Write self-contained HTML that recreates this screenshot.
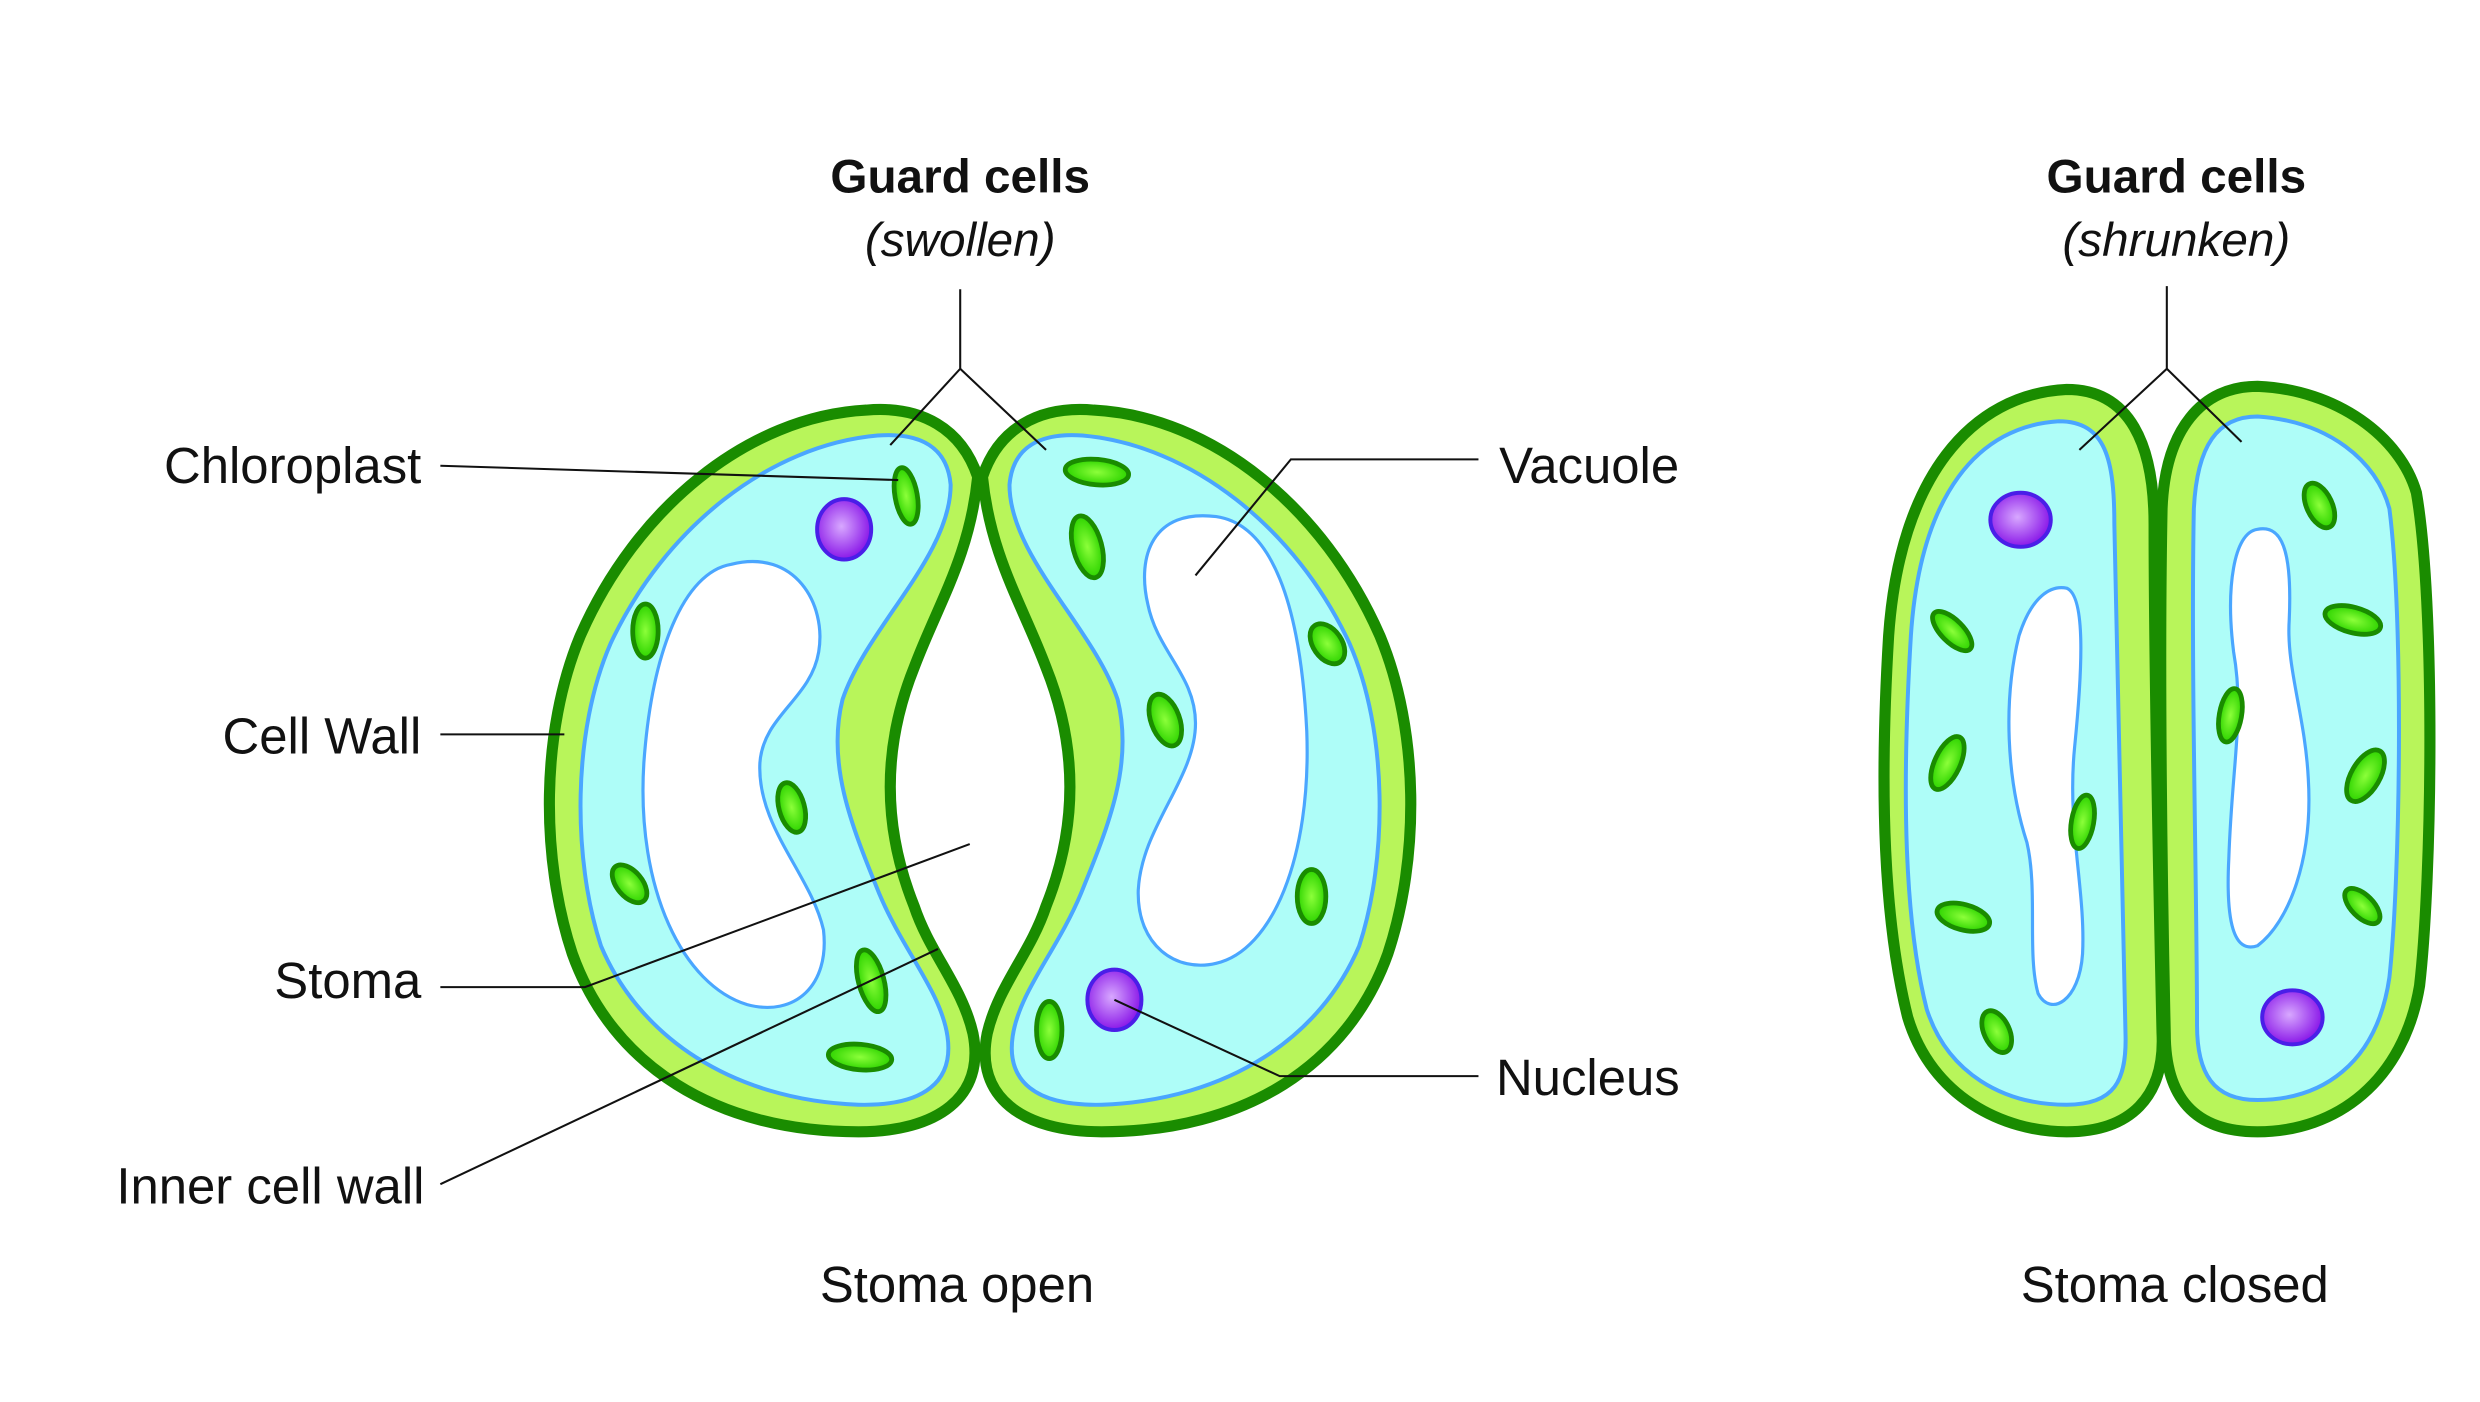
<!DOCTYPE html>
<html><head><meta charset="utf-8"><style>
html,body{margin:0;padding:0;background:#fff;}
svg{display:block;}
text{font-family:"Liberation Sans",sans-serif;fill:#111;}
</style></head><body>
<svg width="2480" height="1402" viewBox="0 0 1560 882" preserveAspectRatio="none" xmlns="http://www.w3.org/2000/svg">
<defs>
<radialGradient id="cg" cx="50%" cy="50%" r="50%"><stop offset="0" stop-color="#8cff3a"/><stop offset="1" stop-color="#2ed400"/></radialGradient>
<radialGradient id="ng" cx="45%" cy="45%" r="55%"><stop offset="0" stop-color="#d8a8ff"/><stop offset="1" stop-color="#8a18e8"/></radialGradient>
<g id="lcell">
<path d="M615,300 C605,270 580,255 545,258 C470,262 400,320 365,400 C340,460 340,540 360,600 C385,670 450,712 540,712 C590,712 620,690 612,650 C605,620 585,600 575,570 C555,520 555,470 575,420 C590,380 610,350 615,300 Z" fill="#b8f55a" stroke="#1a8c00" stroke-width="7"/>
<path d="M598,305 C596,282 580,272 552,274 C484,280 418,332 384,405 C360,460 360,540 378,595 C402,652 460,692 540,695 C582,696 600,680 596,652 C592,624 568,598 553,562 C535,518 520,480 530,440 C545,395 598,350 598,305 Z" fill="#aefdf8" stroke="#4aa6ff" stroke-width="2.5"/>
</g>
</defs>

<use href="#lcell"/>
<path d="M460,355 C500,345 520,380 515,410 C510,440 480,450 478,480 C476,520 510,550 518,585 C522,620 500,640 470,632 C430,620 400,560 405,480 C410,410 430,360 460,355 Z" fill="#fff" stroke="#4aa6ff" stroke-width="2"/>
<g transform="translate(1233,0) scale(-1,1)"><use href="#lcell"/></g>
<path d="M765,325 C725,320 715,350 722,380 C728,410 752,425 752,455 C752,490 718,520 716,560 C715,595 740,612 765,606 C800,598 825,540 822,460 C818,380 800,330 765,325 Z" fill="#fff" stroke="#4aa6ff" stroke-width="2"/>

<g fill="url(#cg)" stroke="#1a8c00" stroke-width="3">
<ellipse cx="570" cy="312" rx="7" ry="18" transform="rotate(-10 570 312)"/>
<ellipse cx="406" cy="397" rx="8" ry="17"/>
<ellipse cx="498" cy="508" rx="8" ry="16" transform="rotate(-15 498 508)"/>
<ellipse cx="396" cy="556" rx="8" ry="14" transform="rotate(-40 396 556)"/>
<ellipse cx="548" cy="617" rx="8" ry="20" transform="rotate(-15 548 617)"/>
<ellipse cx="541" cy="665" rx="20" ry="8" transform="rotate(5 541 665)"/>
<ellipse cx="690" cy="297" rx="20" ry="8" transform="rotate(5 690 297)"/>
<ellipse cx="684" cy="344" rx="9" ry="20" transform="rotate(-15 684 344)"/>
<ellipse cx="835" cy="405" rx="9" ry="14" transform="rotate(-35 835 405)"/>
<ellipse cx="733" cy="453" rx="9" ry="17" transform="rotate(-20 733 453)"/>
<ellipse cx="825" cy="564" rx="9" ry="17"/>
<ellipse cx="660" cy="648" rx="8" ry="18"/>
</g>
<g fill="url(#ng)" stroke="#4a1ee8" stroke-width="2.5">
<ellipse cx="531" cy="333" rx="17" ry="19"/>
<ellipse cx="701" cy="629" rx="17" ry="19"/>
</g>

<path d="M1300,245 C1240,248 1195,300 1188,400 C1182,500 1185,580 1200,640 C1215,690 1260,712 1300,712 C1340,712 1362,690 1360,650 C1358,560 1355,420 1355,330 C1355,280 1340,245 1300,245 Z" fill="#b8f55a" stroke="#1a8c00" stroke-width="7"/>
<path d="M1420,243 C1470,245 1510,275 1520,310 C1532,380 1530,550 1522,620 C1512,680 1470,712 1420,712 C1380,712 1362,690 1362,650 C1360,560 1358,420 1360,320 C1362,270 1385,243 1420,243 Z" fill="#b8f55a" stroke="#1a8c00" stroke-width="7"/>
<path d="M1295,265 C1245,268 1208,310 1202,400 C1196,500 1198,580 1212,635 C1225,675 1260,695 1300,695 C1330,695 1338,680 1337,650 C1335,560 1332,420 1330,330 C1330,290 1325,265 1295,265 Z" fill="#aefdf8" stroke="#4aa6ff" stroke-width="2.5"/>
<path d="M1420,262 C1465,265 1495,290 1503,320 C1512,390 1510,550 1503,615 C1495,670 1460,692 1420,692 C1392,692 1382,675 1382,645 C1382,560 1378,420 1380,320 C1382,280 1395,262 1420,262 Z" fill="#aefdf8" stroke="#4aa6ff" stroke-width="2.5"/>
<path d="M1300,370 C1312,375 1310,420 1305,470 C1300,520 1312,560 1310,600 C1308,630 1290,640 1282,625 C1275,600 1282,560 1275,530 C1262,490 1260,440 1270,400 C1278,375 1290,368 1300,370 Z" fill="#fff" stroke="#4aa6ff" stroke-width="2"/>
<path d="M1420,333 C1435,330 1442,345 1440,390 C1438,420 1450,450 1452,490 C1455,540 1440,580 1420,595 C1405,600 1400,580 1402,540 C1404,480 1412,450 1405,410 C1400,370 1405,335 1420,333 Z" fill="#fff" stroke="#4aa6ff" stroke-width="2"/>
<g fill="url(#cg)" stroke="#1a8c00" stroke-width="3">
<ellipse cx="1228" cy="397" rx="7" ry="16" transform="rotate(-45 1228 397)"/>
<ellipse cx="1225" cy="480" rx="8" ry="18" transform="rotate(25 1225 480)"/>
<ellipse cx="1235" cy="577" rx="17" ry="8" transform="rotate(15 1235 577)"/>
<ellipse cx="1256" cy="649" rx="8" ry="14" transform="rotate(-25 1256 649)"/>
<ellipse cx="1310" cy="517" rx="7" ry="17" transform="rotate(10 1310 517)"/>
<ellipse cx="1459" cy="318" rx="8" ry="15" transform="rotate(-25 1459 318)"/>
<ellipse cx="1480" cy="390" rx="18" ry="8" transform="rotate(15 1480 390)"/>
<ellipse cx="1403" cy="450" rx="7" ry="17" transform="rotate(10 1403 450)"/>
<ellipse cx="1488" cy="488" rx="9" ry="18" transform="rotate(30 1488 488)"/>
<ellipse cx="1486" cy="570" rx="7" ry="14" transform="rotate(-45 1486 570)"/>
</g>
<g fill="url(#ng)" stroke="#4a1ee8" stroke-width="2.5">
<ellipse cx="1271" cy="327" rx="19" ry="17"/>
<ellipse cx="1442" cy="640" rx="19" ry="17"/>
</g>

<g fill="none" stroke="#111" stroke-width="1.3">
<polyline points="604,182 604,232 560,280"/><line x1="604" y1="232" x2="658" y2="283"/>
<polyline points="1363,180 1363,232 1308,283"/><line x1="1363" y1="232" x2="1410" y2="278"/>
<line x1="277" y1="293" x2="565" y2="302"/>
<line x1="277" y1="462" x2="355" y2="462"/>
<polyline points="277,621 368,621 610,531"/>
<line x1="277" y1="745" x2="590" y2="597"/>
<polyline points="930,289 812,289 752,362"/>
<polyline points="930,677 805,677 701,629"/>
</g>

<g font-size="30">
<text x="604" y="121" text-anchor="middle" font-weight="bold">Guard cells</text>
<text x="604" y="161" text-anchor="middle" font-style="italic">(swollen)</text>
<text x="1369" y="121" text-anchor="middle" font-weight="bold">Guard cells</text>
<text x="1369" y="161" text-anchor="middle" font-style="italic">(shrunken)</text>
</g>
<g font-size="32">
<text x="265" y="304" text-anchor="end">Chloroplast</text>
<text x="265" y="474" text-anchor="end">Cell Wall</text>
<text x="265" y="628" text-anchor="end">Stoma</text>
<text x="267" y="757" text-anchor="end">Inner cell wall</text>
<text x="943" y="304">Vacuole</text>
<text x="941" y="689">Nucleus</text>
<text x="602" y="819" text-anchor="middle">Stoma open</text>
<text x="1368" y="819" text-anchor="middle">Stoma closed</text>
</g>
</svg>
</body></html>
